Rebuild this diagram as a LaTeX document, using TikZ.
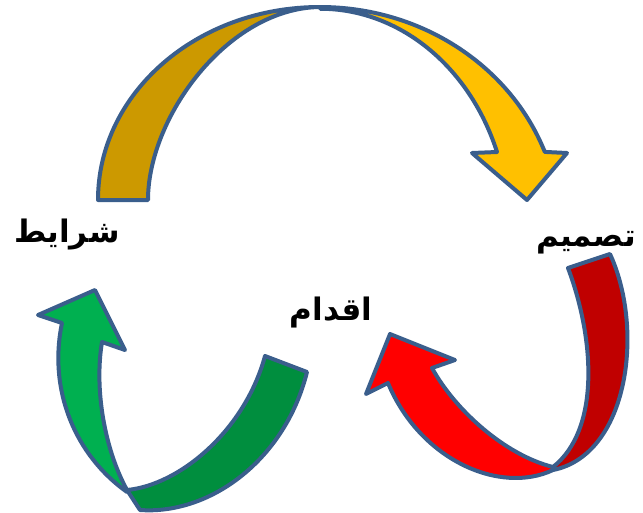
\documentclass[tikz,border=0pt]{standalone}
\usepackage{fontspec}
\TeXXeTstate=1
\newfontfamily\arabicfont[Script=Arabic]{DejaVu Sans}
\definecolor{border}{HTML}{3A5E8C}
\definecolor{darkgold}{HTML}{CC9900}
\definecolor{lightgold}{HTML}{FFC000}
\definecolor{darkred}{HTML}{C00000}
\definecolor{lightred}{HTML}{FF0000}
\definecolor{lightgreen}{HTML}{00B050}
\definecolor{darkgreen}{HTML}{008E3E}
\tikzset{
  band/.style={draw=border, line width=4pt, line join=round},
  lbl/.style={font=\arabicfont\bfseries\fontsize{31}{37}\selectfont, inner sep=0pt}
}
\begin{document}
\begin{tikzpicture}[x=1pt,y=-1pt]
\useasboundingbox (0,0) rectangle (643,512);
% top arrow
\path[band, fill=darkgold] (98,200) .. controls (98,93) and (197,7) .. (320,7)
  .. controls (228,8) and (148,117) .. (148,200) -- cycle;
\path[band, fill=lightgold] (320,7) arc[start angle=270, end angle=339.5, x radius=240, y radius=223]
  -- (567,153) -- (527,200) -- (472,153) -- (497,152)
  arc[start angle=339.4, end angle=270, x radius=189, y radius=221] -- cycle;
% red arrow
\path[band, fill=darkred] (568,268) .. controls (595,340) and (600,430) .. (553,467)
  -- (553,470) .. controls (628,455) and (645,330) .. (610,254) -- cycle;
\path[band, fill=lightred] (553,470) .. controls (500,495) and (420,460) .. (388,383)
  -- (366,394) -- (390,334) -- (455,360) -- (432,368)
  .. controls (455,410) and (505,455) .. (553,467) -- cycle;
% green arrow
\path[band, fill=darkgreen] (127,490) .. controls (180,485) and (245,430) .. (265,356)
  -- (307,372) .. controls (285,460) and (210,515) .. (140,510) -- cycle;
\path[band, fill=lightgreen] (127,492) .. controls (75,455) and (48,390) .. (62,323)
  -- (38,315) -- (95,290) -- (125,350) -- (102,342)
  .. controls (94,390) and (105,450) .. (127,490) -- cycle;
% labels
\node[lbl] (sharayet) at (67,235) {\beginR شرایط\endR};
\node[lbl] (tasmim) at (586,243) {\beginR تصمیم\endR};
\node[lbl] (eqdam) at (331,313) {\beginR اقدام\endR};
\end{tikzpicture}
\end{document}
